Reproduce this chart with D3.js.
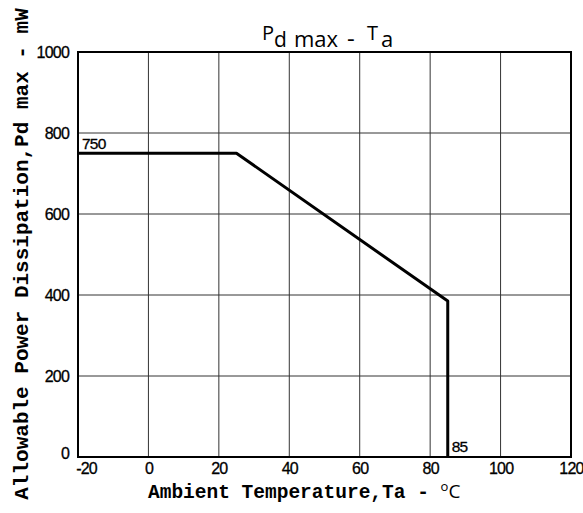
<!DOCTYPE html>
<html>
<head>
<meta charset="utf-8">
<script src="https://cdn.jsdelivr.net/npm/d3@7"></script>
<style>
  body { margin: 0; background: #fff; }
  svg { display: block; }
</style>
</head>
<body>
<svg id="chart" width="583" height="513"></svg>
<script>
// derating curve, Ta (deg C) vs Pd max (mW)
const temps = [-20, 25, 85, 85]
const power = [750, 750, 385, 0]
const xTicks = [-20, 0, 20, 40, 60, 80, 100, 120]
const yTicks = [0, 200, 400, 600, 800, 1000]
const notes = [{t: -20, p: 750, text: "750"}, {t: 85, p: 0, text: "85"}]

let svg = d3.select("#chart")
let x = d3.scaleLinear().domain([-20, 120]).range([78, 571])
let y = d3.scaleLinear().domain([0, 1000]).range([457, 52])

const tickFont = "'Liberation Sans', Arial, sans-serif"
const monoFont = "'Liberation Mono', 'Courier New', monospace"
const titleFont = "'Open Sans', 'Noto Sans', sans-serif"

//grid
let grid = svg.append("g").attr("stroke", "#333").attr("stroke-width", 1)
grid.selectAll(".vx").data(xTicks.slice(1, -1)).enter().append("line")
  .attr("x1", d => x(d)).attr("x2", d => x(d))
  .attr("y1", y(0)).attr("y2", y(1000))
grid.selectAll(".hy").data(yTicks.slice(1, -1)).enter().append("line")
  .attr("x1", x(-20)).attr("x2", x(120))
  .attr("y1", d => y(d)).attr("y2", d => y(d))

//frame
svg.append("rect")
  .attr("x", x(-20)).attr("y", y(1000))
  .attr("width", x(120) - x(-20)).attr("height", y(0) - y(1000))
  .attr("fill", "none").attr("stroke", "#000").attr("stroke-width", 2)

//axes, labels only
let xAxis = svg.append("g").attr("transform", `translate(0,${y(0)})`)
  .call(d3.axisBottom(x).tickValues(xTicks).tickSize(0).tickPadding(6).tickFormat(d3.format("d")))
let yAxis = svg.append("g").attr("transform", `translate(${x(-20)},0)`)
  .call(d3.axisLeft(y).tickValues(yTicks).tickSize(0).tickPadding(9).tickFormat(d3.format("d")))
;[xAxis, yAxis].forEach(a => {
  a.select(".domain").remove()
  a.selectAll("text").attr("font-family", tickFont).attr("font-size", 16)
    .attr("fill", "#000").attr("stroke", "#000").attr("stroke-width", 0.3)
    .attr("letter-spacing", -0.8)
})
xAxis.selectAll("text").text(d => d < 0 ? "-" + Math.abs(d) : d)
  .attr("dx", d => d < 0 ? 8 : 0)
yAxis.selectAll("text").attr("dy", d => d === 0 ? "0.12em" : "0.32em")

//curve
let line = d3.line().x(d => x(d[0])).y(d => y(d[1]))
svg.append("path")
  .datum(temps.map((t, i) => [t, power[i]]))
  .attr("d", line)
  .attr("fill", "none").attr("stroke", "#000").attr("stroke-width", 3)
  .attr("stroke-linejoin", "round")

//value notes
svg.selectAll(".note").data(notes).enter().append("text")
  .attr("x", d => x(d.t) + 4)
  .attr("y", d => d.p > 0 ? y(d.p) - 4 : y(d.p) - 5)
  .attr("font-family", tickFont).attr("font-size", 15.5).attr("letter-spacing", -0.8)
  .attr("stroke", "#000").attr("stroke-width", 0.3)
  .text(d => d.text)

//title
let title = svg.append("text")
  .attr("font-family", titleFont).attr("font-size", 22)
title.append("tspan").attr("x", 262).attr("y", 40).attr("font-size", 20).text("P")
title.append("tspan").attr("x", 274).attr("y", 47).attr("font-size", 21).text("d")
title.append("tspan").attr("x", 294).attr("y", 47).text("max")
title.append("tspan").attr("x", 347).attr("y", 47).attr("font-size", 24).text("-")
title.append("tspan").attr("x", 367).attr("y", 40).attr("font-size", 20).text("T")
title.append("tspan").attr("x", 381).attr("y", 47).text("a")

//x axis title
let xt = svg.append("text").attr("x", 148).attr("y", 498)
  .attr("font-family", monoFont).attr("font-weight", "bold").attr("font-size", 19.5)
xt.append("tspan").text("Ambient Temperature,Ta - ")
xt.append("tspan").attr("dy", -7).attr("font-size", 13)
  .attr("font-family", titleFont).attr("font-weight", "normal").text("o")
xt.append("tspan").attr("dy", 7).attr("font-size", 19)
  .attr("font-family", titleFont).attr("font-weight", "normal").text("C")

//y axis title
svg.append("text")
  .attr("transform", "translate(28,254) rotate(-90)")
  .attr("text-anchor", "middle")
  .attr("font-family", monoFont).attr("font-weight", "bold").attr("font-size", 21)
  .text("Allowable Power Dissipation,Pd max - mW")
</script>
</body>
</html>
